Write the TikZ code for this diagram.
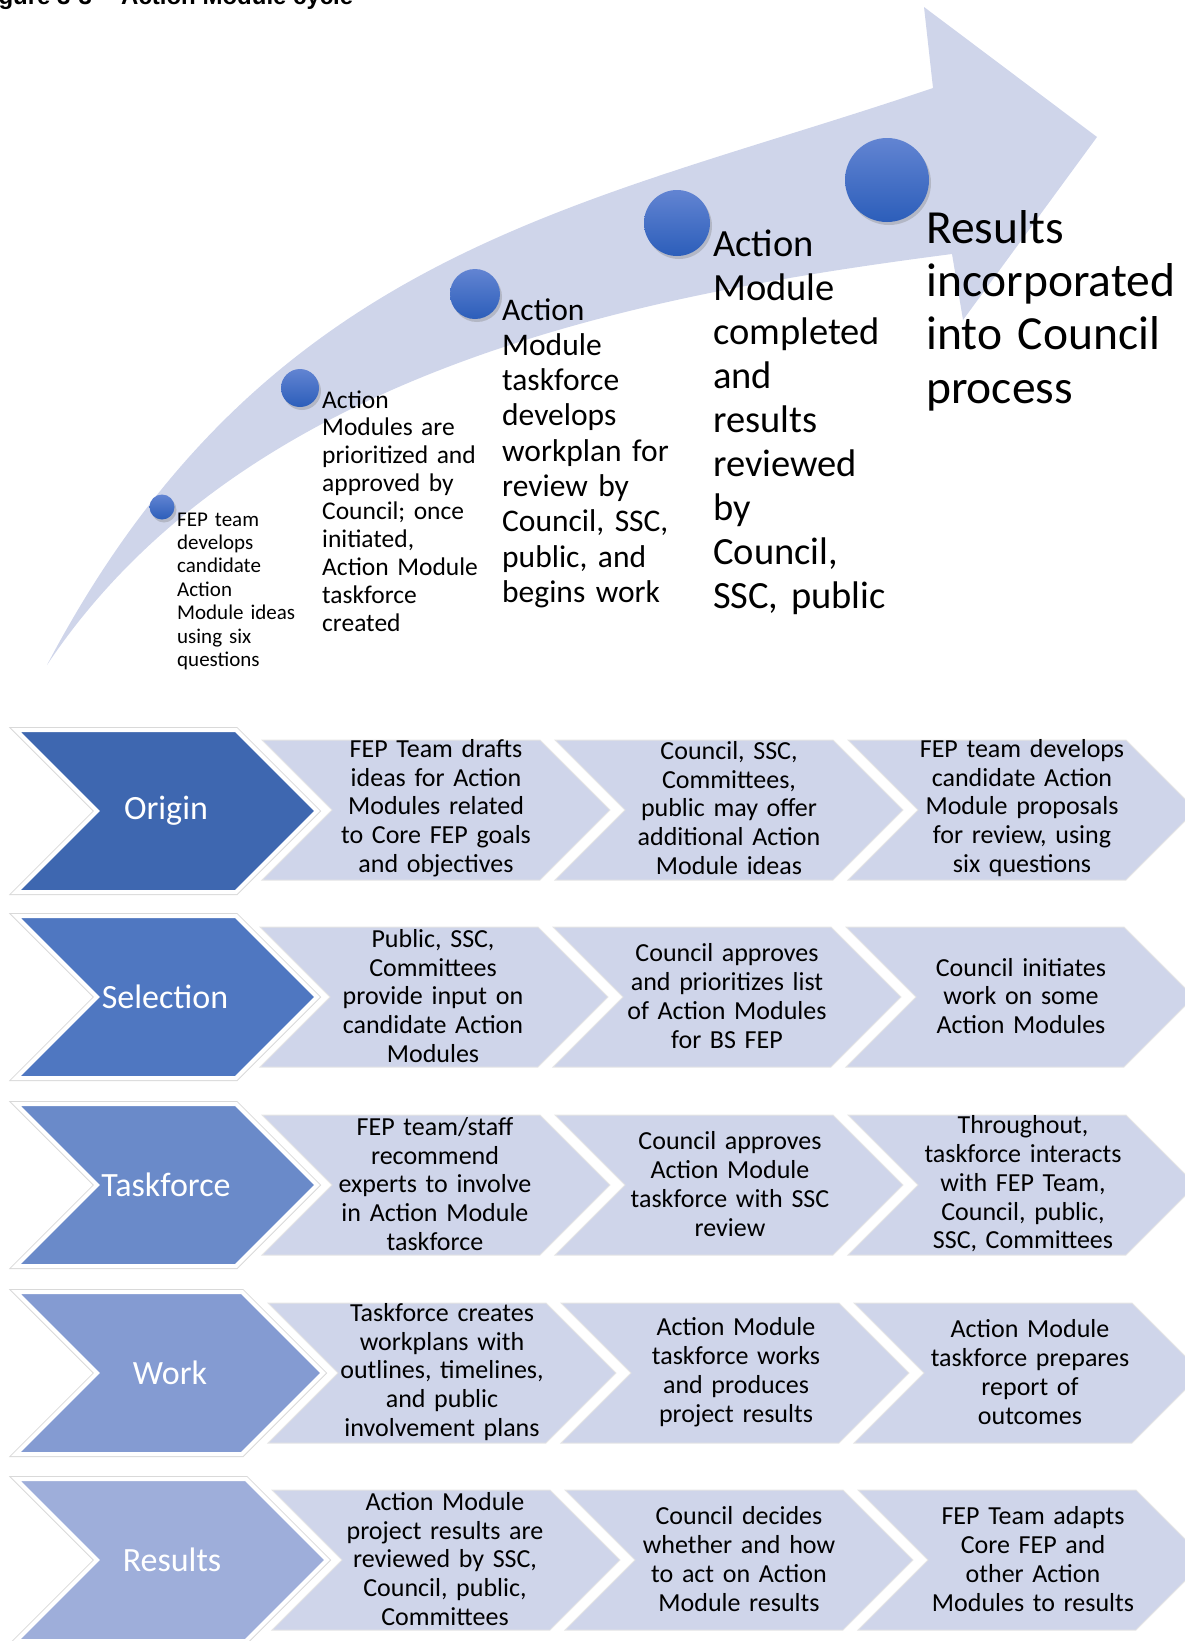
\documentclass[tikz,border=0pt]{standalone}
\usepackage{fontspec}
\setmainfont{Carlito}
\newfontfamily\captionfont{Liberation Sans}
\usetikzlibrary{shadows}

\definecolor{bandfill}{RGB}{207,213,234}
\definecolor{dottop}{RGB}{98,132,210}
\definecolor{dotbot}{RGB}{44,94,186}
\definecolor{origincol}{RGB}{62,103,176}
\definecolor{selectcol}{RGB}{79,119,193}
\definecolor{taskcol}{RGB}{106,138,201}
\definecolor{workcol}{RGB}{132,155,210}
\definecolor{resultcol}{RGB}{158,174,218}

\begin{document}
\begin{tikzpicture}[x=1pt,y=-1pt,
	dot/.style={circle, inner sep=0pt, top color=dottop, bottom color=dotbot,
		drop shadow={shadow xshift=2pt, shadow yshift=-3pt, opacity=0.35}},
	stage/.style={anchor=base west, inner sep=0pt, align=left, text width=#1},
	bigtext/.style={text=white, font=\fontsize{34}{40}\selectfont},
	steptext/.style={text width=250pt, align=center, inner sep=0pt,
		font=\fontsize{26}{28.8}\selectfont},
	pics/bigchev/.style 2 args={code={
		\fill[#2, preaction={draw=black!15, line width=6pt}, draw=white, line width=4pt]
			(0,-81) -- (#1,-81) -- (#1+81,0) -- (#1,81) -- (0,81) -- (81,0) -- cycle;
	}},
	pics/stepchev/.style={code={
		\fill[bandfill, draw=black!10, line width=1pt]
			(0,-70) -- (278,-70) -- (348,0) -- (278,70) -- (0,70) -- (70,0) -- cycle;
	}}
]
	\clip (0,0) rectangle (1185,1641);

	% caption, cut at the top edge
	\node[anchor=base west, inner sep=0pt, font=\captionfont\bfseries\fontsize{24}{28}\selectfont]
		(caption) at (-23,4) {Figure 3-3 -- Action Module cycle};

	% the curved arrow
	\fill[bandfill] (47,665) .. controls (267,247) and (583,207) .. (933,88)
		-- (924,7) -- (1097,137) -- (963,320) -- (952,254)
		.. controls (652,293) and (247,365) .. (47,665) -- cycle;

	\node[dot, minimum size=25pt] (dot1) at (162,507) {};
	\node[dot, minimum size=38pt] (dot2) at (300,388) {};
	\node[dot, minimum size=50pt] (dot3) at (475,294) {};
	\node[dot, minimum size=66pt] (dot4) at (677,223) {};
	\node[dot, minimum size=84pt] (dot5) at (887,180) {};

	\node[stage=140pt, font=\fontsize{21}{23.4}\selectfont] (ideas) at (177,526)
		{FEP team\\develops\\candidate\\Action\\Module ideas\\using six\\questions};
	\node[stage=175pt, font=\fontsize{25.5}{27.9}\selectfont] (approved) at (322,408)
		{Action\\Modules are\\prioritized and\\approved by\\Council; once\\initiated,\\Action Module\\taskforce\\created};
	\node[stage=190pt, font=\fontsize{31.5}{35.3}\selectfont] (workplan) at (502,320)
		{Action\\Module\\taskforce\\develops\\workplan for\\review by\\Council, SSC,\\public, and\\begins work};
	\node[stage=200pt, font=\fontsize{38.5}{44}\selectfont] (reviewed) at (713,256)
		{Action\\Module\\completed\\and\\results\\reviewed\\by\\Council,\\SSC, public};
	\node[stage=270pt, font=\fontsize{47.5}{53.4}\selectfont] (incorporated) at (926,243)
		{Results\\incorporated\\into Council\\process};

	% Origin
	\pic at (16,811) {bigchev={220}{origincol}};
	\pic at (262,810) {stepchev};
	\pic at (555,810) {stepchev};
	\pic at (848,810) {stepchev};
	\node[bigtext] (origin) at (166,811) {Origin};
	\node[steptext] (origin1) at (436,808) {FEP Team drafts\\ideas for Action\\Modules related\\to Core FEP goals\\and objectives};
	\node[steptext] (origin2) at (729,808) {Council, SSC,\\Committees,\\public may offer\\additional Action\\Module ideas};
	\node[steptext] (origin3) at (1022,808) {FEP team develops\\candidate Action\\Module proposals\\for review, using\\six questions};

	% Selection
	\pic at (16,997) {bigchev={220}{selectcol}};
	\pic at (260,997) {stepchev};
	\pic at (553,997) {stepchev};
	\pic at (846,997) {stepchev};
	\node[bigtext] (selection) at (165,997) {Selection};
	\node[steptext] (selection1) at (433,996) {Public, SSC,\\Committees\\provide input on\\candidate Action\\Modules};
	\node[steptext] (selection2) at (727,996) {Council approves\\and prioritizes list\\of Action Modules\\for BS FEP};
	\node[steptext] (selection3) at (1021,996) {Council initiates\\work on some\\Action Modules};

	% Taskforce
	\pic at (16,1185) {bigchev={220}{taskcol}};
	\pic at (262,1185) {stepchev};
	\pic at (555,1185) {stepchev};
	\pic at (848,1185) {stepchev};
	\node[bigtext] (taskforce) at (166,1185) {Taskforce};
	\node[steptext] (taskforce1) at (435,1184) {FEP team/staff\\recommend\\experts to involve\\in Action Module\\taskforce};
	\node[steptext] (taskforce2) at (730,1184) {Council approves\\Action Module\\taskforce with SSC\\review};
	\node[steptext] (taskforce3) at (1023,1184) {Throughout,\\taskforce interacts\\with FEP Team,\\Council, public,\\SSC, Committees};

	% Work
	\pic at (16,1373) {bigchev={226}{workcol}};
	\pic at (268,1373) {stepchev};
	\pic at (561,1373) {stepchev};
	\pic at (854,1373) {stepchev};
	\node[bigtext] (work) at (170,1373) {Work};
	\node[steptext] (work1) at (442,1372) {Taskforce creates\\workplans with\\outlines, timelines,\\and public\\involvement plans};
	\node[steptext] (work2) at (736,1372) {Action Module\\taskforce works\\and produces\\project results};
	\node[steptext] (work3) at (1030,1372) {Action Module\\taskforce prepares\\report of\\outcomes};

	% Results
	\pic at (16,1560) {bigchev={230}{resultcol}};
	\pic at (272,1560) {stepchev};
	\pic at (565,1560) {stepchev};
	\pic at (858,1560) {stepchev};
	\node[bigtext] (results) at (172,1560) {Results};
	\node[steptext] (results1) at (445,1559) {Action Module\\project results are\\reviewed by SSC,\\Council, public,\\Committees};
	\node[steptext] (results2) at (739,1559) {Council decides\\whether and how\\to act on Action\\Module results};
	\node[steptext] (results3) at (1033,1559) {FEP Team adapts\\Core FEP and\\other Action\\Modules to results};
\end{tikzpicture}
\end{document}
